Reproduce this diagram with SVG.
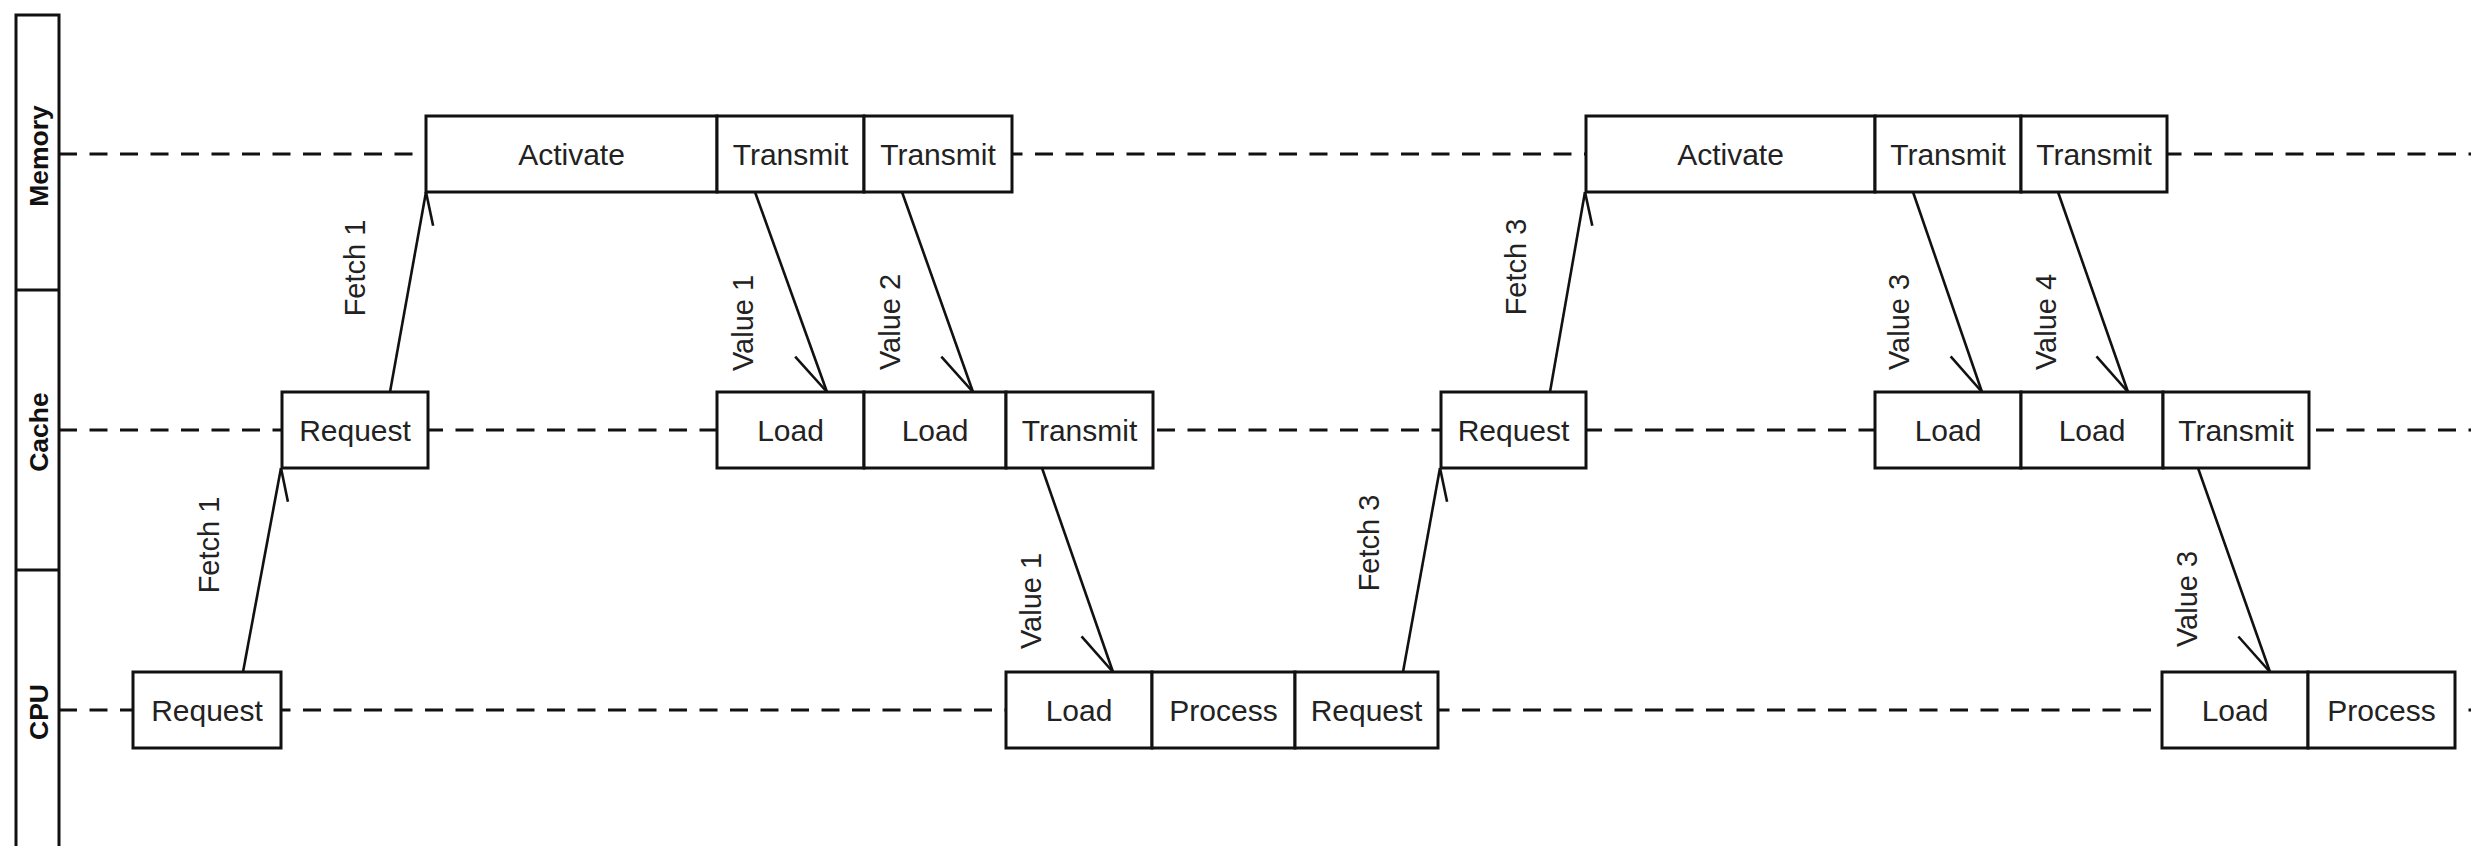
<svg xmlns="http://www.w3.org/2000/svg" width="2471" height="846" viewBox="0 0 2471 846">
<style>
.lane{fill:none;stroke:#111;stroke-width:3}
.life{fill:none;stroke:#111;stroke-width:3;stroke-dasharray:18 12.5}
.box{fill:#fff;stroke:#111;stroke-width:3}
.bt{font-family:"Liberation Sans",Arial,sans-serif;font-size:30px;fill:#222;text-anchor:middle}
.lt{font-family:"Liberation Sans",Arial,sans-serif;font-size:26.5px;font-weight:bold;fill:#111;text-anchor:middle}
.cl{font-family:"Liberation Sans",Arial,sans-serif;font-size:29px;fill:#222;text-anchor:middle}
.arr{fill:none;stroke:#111;stroke-width:2.6}
.barb{fill:none;stroke:#111;stroke-width:2.6}
</style>
<defs>
<marker id="barbV" markerUnits="userSpaceOnUse" orient="auto" viewBox="-50 -5 55 30" markerWidth="55" markerHeight="30" refX="0" refY="0" overflow="visible"><path class="barb" d="M0,0 L-44,18"/></marker>
<marker id="barbF" markerUnits="userSpaceOnUse" orient="auto" viewBox="-40 -5 45 25" markerWidth="45" markerHeight="25" refX="0" refY="0" overflow="visible"><path class="barb" d="M0,0 L-32,13"/></marker>
</defs>
<rect width="2471" height="846" fill="#fff"/>

<g id="lanes">
<rect class="lane" x="16" y="15" width="43" height="840"/>
<line class="lane" x1="16" y1="290" x2="59" y2="290"/>
<line class="lane" x1="16" y1="570" x2="59" y2="570"/>
<text class="lt" transform="translate(47.5,156) rotate(-90)">Memory</text>
<text class="lt" transform="translate(47.5,432) rotate(-90)">Cache</text>
<text class="lt" transform="translate(47.5,712) rotate(-90)">CPU</text>
<line class="life" x1="59" y1="154" x2="2471" y2="154"/>
<line class="life" x1="59" y1="430" x2="2471" y2="430"/>
<line class="life" x1="59" y1="710" x2="2471" y2="710"/>
</g>

<g id="connectors">
<line class="arr" x1="243" y1="672" x2="281" y2="468" marker-end="url(#barbF)"/>
<line class="arr" x1="390" y1="392" x2="426" y2="192" marker-end="url(#barbF)"/>
<line class="arr" x1="755" y1="192" x2="827" y2="392" marker-end="url(#barbV)"/>
<line class="arr" x1="902" y1="192" x2="973" y2="392" marker-end="url(#barbV)"/>
<line class="arr" x1="1042" y1="468" x2="1113" y2="672" marker-end="url(#barbV)"/>
<line class="arr" x1="1403" y1="672" x2="1440" y2="468" marker-end="url(#barbF)"/>
<line class="arr" x1="1550" y1="392" x2="1585" y2="192" marker-end="url(#barbF)"/>
<line class="arr" x1="1913" y1="192" x2="1982" y2="392" marker-end="url(#barbV)"/>
<line class="arr" x1="2058" y1="192" x2="2128" y2="392" marker-end="url(#barbV)"/>
<line class="arr" x1="2198" y1="468" x2="2270" y2="672" marker-end="url(#barbV)"/>
<text class="cl" transform="translate(218.5,545) rotate(-90)">Fetch 1</text>
<text class="cl" transform="translate(364.5,268) rotate(-90)">Fetch 1</text>
<text class="cl" transform="translate(752.5,323) rotate(-90)">Value 1</text>
<text class="cl" transform="translate(899.5,322) rotate(-90)">Value 2</text>
<text class="cl" transform="translate(1040.5,601) rotate(-90)">Value 1</text>
<text class="cl" transform="translate(1378.5,543) rotate(-90)">Fetch 3</text>
<text class="cl" transform="translate(1525.5,267) rotate(-90)">Fetch 3</text>
<text class="cl" transform="translate(1908.5,322) rotate(-90)">Value 3</text>
<text class="cl" transform="translate(2055.5,322) rotate(-90)">Value 4</text>
<text class="cl" transform="translate(2196.5,599) rotate(-90)">Value 3</text>
</g>

<g id="m_act1"><rect class="box" x="426" y="116" width="291" height="76"/><text class="bt" x="571.5" y="164.5">Activate</text></g>
<g id="m_tx1"><rect class="box" x="717" y="116" width="147" height="76"/><text class="bt" x="790.5" y="164.5">Transmit</text></g>
<g id="m_tx2"><rect class="box" x="864" y="116" width="148" height="76"/><text class="bt" x="938" y="164.5">Transmit</text></g>
<g id="m_act2"><rect class="box" x="1586" y="116" width="289" height="76"/><text class="bt" x="1730.5" y="164.5">Activate</text></g>
<g id="m_tx3"><rect class="box" x="1875" y="116" width="146" height="76"/><text class="bt" x="1948" y="164.5">Transmit</text></g>
<g id="m_tx4"><rect class="box" x="2021" y="116" width="146" height="76"/><text class="bt" x="2094" y="164.5">Transmit</text></g>

<g id="c_req1"><rect class="box" x="282" y="392" width="146" height="76"/><text class="bt" x="355" y="440.5">Request</text></g>
<g id="c_load1"><rect class="box" x="717" y="392" width="147" height="76"/><text class="bt" x="790.5" y="440.5">Load</text></g>
<g id="c_load2"><rect class="box" x="864" y="392" width="142" height="76"/><text class="bt" x="935" y="440.5">Load</text></g>
<g id="c_tx1"><rect class="box" x="1006" y="392" width="147" height="76"/><text class="bt" x="1079.5" y="440.5">Transmit</text></g>
<g id="c_req2"><rect class="box" x="1441" y="392" width="145" height="76"/><text class="bt" x="1513.5" y="440.5">Request</text></g>
<g id="c_load3"><rect class="box" x="1875" y="392" width="146" height="76"/><text class="bt" x="1948" y="440.5">Load</text></g>
<g id="c_load4"><rect class="box" x="2021" y="392" width="142" height="76"/><text class="bt" x="2092" y="440.5">Load</text></g>
<g id="c_tx2"><rect class="box" x="2163" y="392" width="146" height="76"/><text class="bt" x="2236" y="440.5">Transmit</text></g>

<g id="p_req1"><rect class="box" x="133" y="672" width="148" height="76"/><text class="bt" x="207" y="720.5">Request</text></g>
<g id="p_load1"><rect class="box" x="1006" y="672" width="146" height="76"/><text class="bt" x="1079" y="720.5">Load</text></g>
<g id="p_proc1"><rect class="box" x="1152" y="672" width="143" height="76"/><text class="bt" x="1223.5" y="720.5">Process</text></g>
<g id="p_req2"><rect class="box" x="1295" y="672" width="143" height="76"/><text class="bt" x="1366.5" y="720.5">Request</text></g>
<g id="p_load2"><rect class="box" x="2162" y="672" width="146" height="76"/><text class="bt" x="2235" y="720.5">Load</text></g>
<g id="p_proc2"><rect class="box" x="2308" y="672" width="147" height="76"/><text class="bt" x="2381.5" y="720.5">Process</text></g>
</svg>
